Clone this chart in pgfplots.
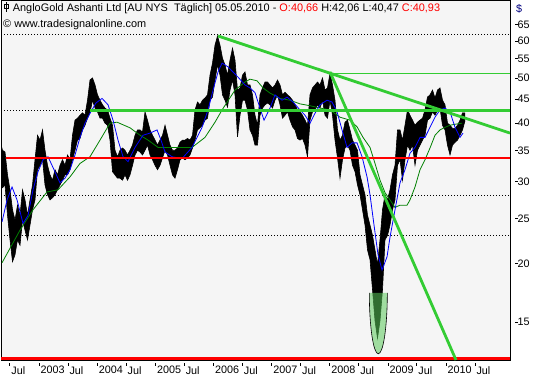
\documentclass[border=0pt]{standalone}
\usepackage{pgfplots}
\pgfplotsset{compat=1.18}
\usepackage{pgfplotstable}
\usepgfplotslibrary{fillbetween}
\usepackage{fontspec}
\setmainfont{Liberation Sans}
\definecolor{bg}{RGB}{245,245,245}
\definecolor{tlgreen}{RGB}{51,204,51}
\definecolor{magreen}{RGB}{0,128,0}
\definecolor{mablue}{RGB}{0,0,255}
\definecolor{ellfill}{RGB}{91,203,91}
\definecolor{dollar}{RGB}{0,0,128}

\pgfplotstableread{
t hi lo
2002.347 36.0 30.0
2002.372 35.0 29.1
2002.415 34.7 29.5
2002.458 31.0 25.4
2002.501 28.8 22.5
2002.544 26.1 20.2
2002.587 24.8 20.9
2002.630 26.7 22.5
2002.673 25.4 21.9
2002.716 28.8 24.8
2002.759 27.4 23.6
2002.802 25.4 22.5
2002.845 27.4 24.2
2002.888 29.5 26.1
2002.931 33.4 27.4
2002.974 37.7 31.8
2003.017 36.8 32.5
2003.060 38.7 33.4
2003.103 35.0 29.5
2003.146 32.5 28.1
2003.189 31.0 27.4
2003.232 30.2 27.7
2003.275 31.8 28.1
2003.318 31.0 28.8
2003.361 32.5 29.5
2003.404 33.4 30.2
2003.447 32.5 31.0
2003.490 34.2 31.0
2003.533 33.4 31.8
2003.576 37.7 33.4
2003.619 40.6 35.0
2003.662 41.0 36.8
2003.705 41.6 37.1
2003.748 42.1 38.7
2003.791 41.6 39.6
2003.834 44.8 41.0
2003.877 49.5 42.1
2003.920 50.0 44.8
2003.963 48.3 43.1
2004.006 46.0 42.3
2004.049 44.8 41.0
2004.092 43.8 41.0
2004.135 43.1 40.0
2004.178 42.7 39.6
2004.221 41.0 36.8
2004.264 39.6 31.5
2004.307 35.0 31.0
2004.350 33.9 30.5
2004.393 35.0 30.5
2004.436 35.4 30.2
2004.479 35.0 31.0
2004.522 34.2 30.2
2004.565 35.0 31.0
2004.608 35.9 32.5
2004.651 37.7 34.2
2004.694 38.7 35.0
2004.737 38.7 34.7
2004.780 38.3 34.2
2004.823 42.3 35.0
2004.866 40.6 35.9
2004.909 38.7 34.2
2004.952 37.7 33.4
2004.995 36.8 32.5
2005.038 35.9 31.8
2005.081 36.8 32.5
2005.124 37.7 33.7
2005.167 39.6 35.0
2005.210 37.7 34.2
2005.253 35.9 32.5
2005.296 35.0 31.0
2005.339 35.0 30.5
2005.382 35.4 31.8
2005.425 36.4 33.4
2005.468 36.8 33.7
2005.511 36.8 33.4
2005.554 37.1 33.7
2005.597 36.8 34.2
2005.640 37.7 35.4
2005.683 42.7 36.8
2005.726 44.4 38.7
2005.769 43.8 39.1
2005.812 44.8 39.6
2005.855 45.3 40.6
2005.898 46.0 41.0
2005.941 50.7 44.8
2005.984 53.8 45.5
2006.027 58.8 49.5
2006.070 61.5 53.3
2006.113 58.8 50.7
2006.156 55.1 46.0
2006.199 53.3 44.8
2006.242 50.7 43.3
2006.285 54.6 47.1
2006.328 57.9 49.5
2006.371 54.6 46.0
2006.414 47.1 37.4
2006.457 47.6 41.6
2006.500 50.7 44.8
2006.543 51.5 44.8
2006.586 48.3 42.7
2006.629 48.3 38.7
2006.672 46.0 37.7
2006.715 41.6 35.9
2006.758 39.6 35.9
2006.801 46.0 41.6
2006.844 47.6 43.1
2006.887 49.0 43.8
2006.930 49.0 44.2
2006.973 48.3 43.8
2007.016 47.6 43.1
2007.059 48.3 44.8
2007.102 49.5 46.0
2007.145 48.3 43.8
2007.188 46.0 41.0
2007.231 46.6 41.6
2007.274 46.0 42.3
2007.317 45.5 40.6
2007.360 44.8 39.3
2007.403 43.8 38.7
2007.446 42.7 37.1
2007.489 42.3 36.8
2007.532 41.6 37.1
2007.575 40.6 35.9
2007.618 39.6 33.9
2007.661 46.0 40.6
2007.704 47.6 42.3
2007.747 48.3 42.7
2007.790 49.0 43.8
2007.833 48.3 43.1
2007.876 50.0 44.8
2007.919 47.1 41.6
2007.962 47.6 41.0
2008.005 51.2 44.8
2008.048 48.3 41.6
2008.091 44.8 36.8
2008.134 38.7 33.7
2008.177 36.8 30.5
2008.220 37.7 33.4
2008.263 40.2 35.4
2008.306 40.6 35.9
2008.349 38.7 35.0
2008.392 36.8 32.5
2008.435 35.9 31.5
2008.478 35.0 29.5
2008.521 31.0 28.1
2008.564 29.5 26.1
2008.607 28.1 24.2
2008.650 25.4 21.4
2008.693 24.2 20.4
2008.736 23.0 17.6
2008.779 21.4 15.1
2008.822 19.9 13.85
2008.865 22.5 15.1
2008.908 26.1 17.6
2008.951 28.1 22.5
2008.994 27.4 23.0
2009.037 28.8 24.2
2009.080 31.0 26.1
2009.123 32.5 27.4
2009.166 38.7 32.5
2009.209 38.7 33.4
2009.252 36.8 30.2
2009.295 39.6 33.4
2009.338 42.7 35.9
2009.381 41.6 35.0
2009.424 40.6 35.9
2009.467 39.6 32.5
2009.510 40.2 35.0
2009.553 40.6 35.9
2009.596 41.0 36.8
2009.639 42.7 37.7
2009.682 45.5 40.6
2009.725 46.0 41.0
2009.768 47.1 42.3
2009.811 45.3 41.6
2009.854 47.1 42.7
2009.897 47.6 43.1
2009.940 44.8 39.6
2009.983 43.8 38.7
2010.026 40.0 35.9
2010.069 39.6 34.2
2010.112 39.0 35.9
2010.155 39.0 36.4
2010.198 39.6 36.8
2010.241 40.6 37.7
2010.284 42.1 38.7
2010.327 42.06 40.47
}\price

\pgfplotstableread{
t v
2002.364 24.6
2002.450 27.4
2002.536 29.2
2002.622 27.4
2002.725 24.4
2002.811 25.4
2002.897 28.8
2002.983 31.5
2003.069 33.4
2003.155 33.9
2003.258 31.8
2003.361 29.8
2003.447 30.5
2003.533 31.8
2003.619 34.2
2003.705 37.3
2003.791 40.0
2003.877 42.0
2003.980 44.2
2004.084 45.2
2004.187 43.8
2004.273 40.6
2004.359 36.8
2004.445 33.9
2004.531 33.1
2004.651 35.5
2004.789 37.7
2004.909 38.1
2005.030 38.7
2005.098 36.8
2005.167 34.7
2005.288 33.9
2005.460 33.6
2005.632 35.5
2005.804 39.2
2005.907 42.7
2005.993 47.1
2006.079 51.5
2006.148 53.8
2006.251 52.8
2006.423 50.2
2006.543 48.3
2006.629 47.6
2006.715 46.5
2006.801 43.1
2006.870 40.6
2006.973 43.1
2007.059 46.0
2007.180 44.8
2007.266 45.5
2007.369 44.4
2007.489 42.7
2007.575 41.6
2007.661 40.0
2007.747 42.0
2007.833 43.8
2007.954 44.8
2008.040 44.4
2008.126 42.3
2008.212 38.7
2008.298 35.5
2008.384 36.3
2008.470 36.3
2008.556 33.9
2008.642 30.7
2008.693 28.1
2008.762 24.2
2008.831 20.9
2008.900 19.4
2008.986 20.7
2009.037 22.8
2009.123 26.1
2009.209 29.8
2009.295 31.8
2009.381 34.5
2009.467 35.5
2009.553 37.3
2009.639 37.3
2009.725 39.2
2009.811 41.2
2009.897 42.7
2009.983 43.1
2010.069 42.3
2010.155 39.2
2010.241 37.3
2010.293 38.1
}\mafast

\pgfplotstableread{
t v
2002.364 20.1
2002.673 23.6
2002.897 26.1
2003.138 28.5
2003.327 28.8
2003.533 30.7
2003.705 32.8
2003.877 33.9
2004.049 36.8
2004.221 40.0
2004.342 40.2
2004.565 39.1
2004.737 37.7
2004.875 36.8
2005.047 35.5
2005.339 35.5
2005.632 35.5
2005.855 37.3
2006.027 40.2
2006.148 42.7
2006.371 47.1
2006.543 49.0
2006.629 49.7
2006.750 49.3
2006.853 47.6
2006.973 46.4
2007.145 45.2
2007.317 44.8
2007.489 44.0
2007.661 43.6
2007.833 43.1
2008.005 42.7
2008.177 41.2
2008.349 40.6
2008.470 39.3
2008.573 37.3
2008.693 35.5
2008.779 32.8
2008.865 30.2
2008.951 28.4
2009.037 27.4
2009.123 26.4
2009.209 26.7
2009.330 26.7
2009.381 27.4
2009.467 29.2
2009.553 31.8
2009.639 33.4
2009.725 35.4
2009.811 37.7
2009.897 38.7
2009.983 39.2
2010.069 39.6
2010.155 39.8
2010.276 40.0
}\maslow

\begin{document}
\begin{tikzpicture}
\begin{axis}[
  at={(1pt,20pt)}, anchor=south west,
  scale only axis, width=509pt, height=360pt,
  xmin=2002.346, xmax=2011.101,
  ymode=log, ymin=12.44, ymax=73.45,
  axis background/.style={fill=bg},
  axis line style={black, line width=0.8pt},
  tick align=outside, major tick length=3.5pt,
  xtick pos=bottom, ytick pos=right, yticklabel pos=right,
  xtick={2002.496,2003,2003.496,2004,2004.496,2005,2005.496,2006,2006.496,2007,2007.496,2008,2008.496,2009,2009.496,2010,2010.496},
  xticklabels={Jul,2003,Jul,2004,Jul,2005,Jul,2006,Jul,2007,Jul,2008,Jul,2009,Jul,2010,Jul},
  ytick={15,20,25,30,35,40,45,50,55,60,65},
  yticklabels={15,20,25,30,35,40,45,50,55,60,65},
  minor ytick={},
  tick style={black, line width=0.6pt},
  xtick style={yshift=-2.5pt},
  ytick style={xshift=4.5pt},
  tick label style={font=\fontsize{10.8}{12}\selectfont},
  xticklabel style={anchor=north west, inner sep=0pt, xshift=1.5pt, yshift=-2.5pt},
  yticklabel style={anchor=west, inner sep=0pt, xshift=4pt},
  clip=true,
]
% dotted level lines
\addplot[black, line width=0.6pt, dash pattern=on 0.8pt off 2.2pt] coordinates {(2002.346,62.0) (2011.101,62.0)};
\addplot[black, line width=0.6pt, dash pattern=on 0.8pt off 2.2pt] coordinates {(2002.346,42.7) (2011.101,42.7)};
\addplot[black, line width=0.6pt, dash pattern=on 0.8pt off 2.2pt] coordinates {(2002.346,28.0) (2011.101,28.0)};
\addplot[black, line width=0.6pt, dash pattern=on 0.8pt off 2.2pt] coordinates {(2002.346,23.0) (2011.101,23.0)};
% price high/low
\addplot[name path=hi, black, line width=0.6pt] table[x=t,y=hi]{\price};
\addplot[name path=lo, black, line width=0.6pt] table[x=t,y=lo]{\price};
\addplot[black] fill between[of=hi and lo];
% ellipse marker at the 2008 low
\fill[ellfill, fill opacity=0.55] (axis cs:2008.836,17.33) ++(-9pt,0pt) arc[start angle=180,end angle=360,x radius=9pt,y radius=61pt] -- cycle;
\draw[black, line width=0.6pt] (axis cs:2008.836,17.33) ++(-9pt,0pt) arc[start angle=180,end angle=360,x radius=9pt,y radius=61pt];
% moving averages
\addplot[magreen, line width=0.8pt] table[x=t,y=v]{\maslow};
\addplot[mablue, line width=0.8pt] table[x=t,y=v]{\mafast};
% horizontal levels
\addplot[red, line width=2.8pt] coordinates {(2002.43,33.7) (2011.101,33.7)};
\addplot[red, line width=2.8pt] coordinates {(2002.346,12.53) (2011.101,12.53)};
\addplot[tlgreen, line width=2.8pt] coordinates {(2003.877,42.6) (2011.101,42.6)};
\addplot[tlgreen, line width=0.9pt] coordinates {(2008.005,51.2) (2011.101,51.2)};
% trend lines
\addplot[tlgreen, line width=2.8pt] coordinates {(2006.079,61.5) (2011.101,38.1)};
\addplot[tlgreen, line width=2.8pt] coordinates {(2008.005,51.5) (2010.172,12.44)};
\end{axis}
% title
\draw[black, line width=0.6pt] (6.5pt,368pt) -- (6.5pt,378pt);
\draw[black, line width=0.6pt] (4.5pt,372pt) rectangle (8.5pt,376pt);
\node[anchor=base west, inner sep=0pt, font=\fontsize{10.9}{13}\selectfont] at (12.7pt,368.3pt)
  {AngloGold Ashanti Ltd [AU NYS\ \ Täglich] 05.05.2010 - \textcolor{red}{O:40,66} H:42,06 L:40,47 \textcolor{red}{C:40,93}};
\node[anchor=base west, inner sep=0pt, font=\fontsize{10.9}{13}\selectfont] at (3pt,352.5pt)
  {© www.tradesignalonline.com};
\node[anchor=base west, inner sep=0pt, font=\fontsize{10.8}{13}\selectfont, text=dollar] at (516pt,367pt) {\$};
\pgfresetboundingbox
\path[use as bounding box] (0pt,0pt) rectangle (534pt,380pt);
\end{tikzpicture}
\end{document}
